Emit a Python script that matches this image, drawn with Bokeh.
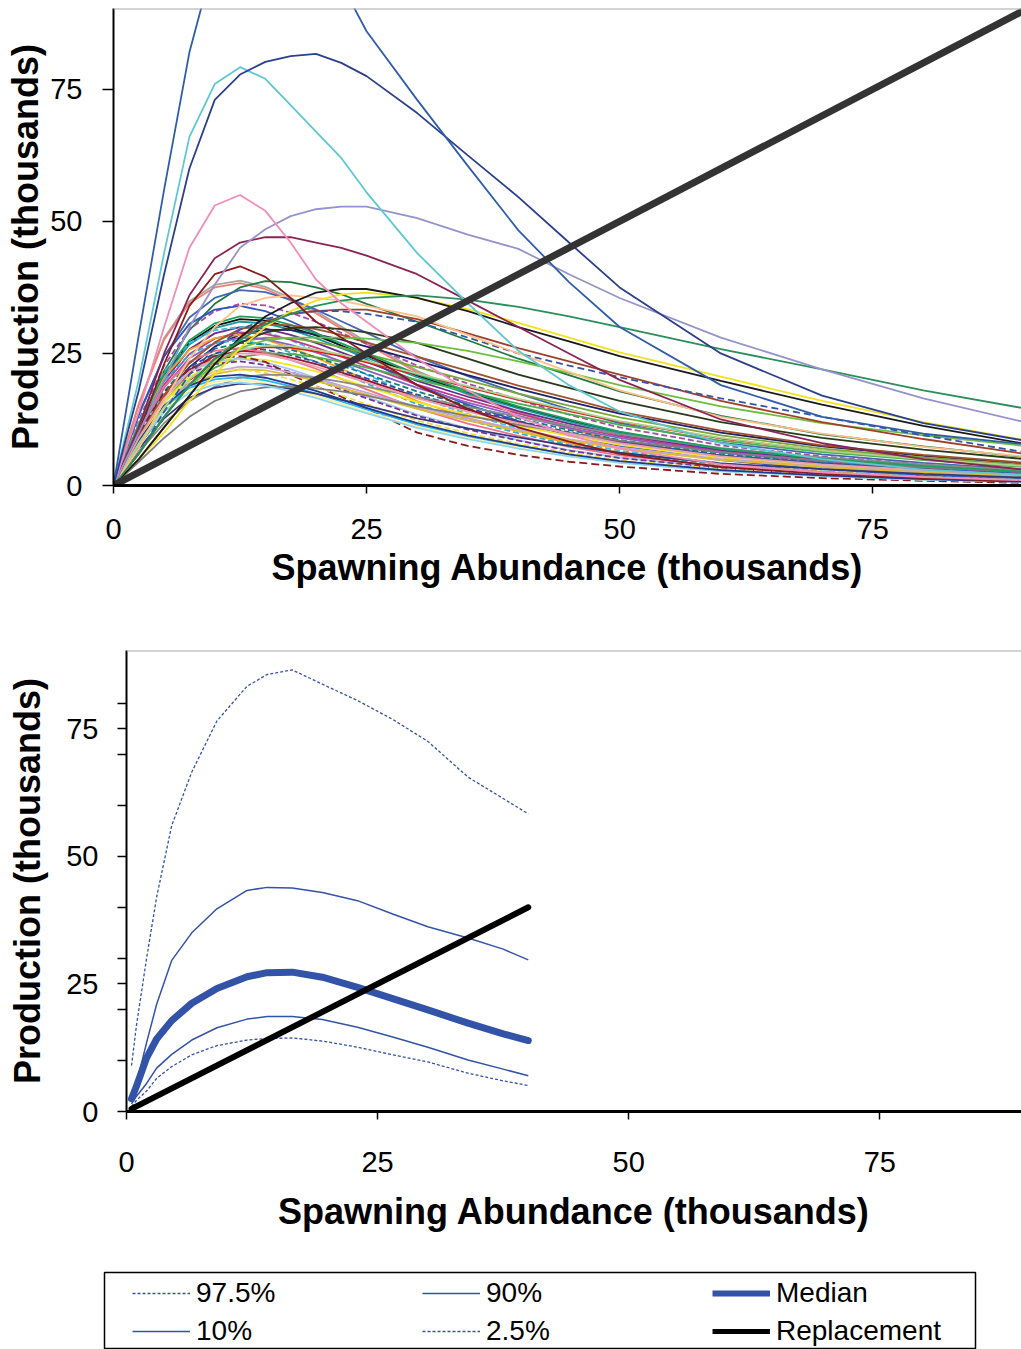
from bokeh.plotting import figure
from bokeh.layouts import column
from bokeh.models import Range1d, FixedTicker, Span, Legend, LegendItem
from bokeh.embed import file_html
from bokeh.resources import INLINE

FONT = "Liberation Sans"

# ---------------- top panel: stock-recruitment curves ----------------
top_x = [0, 2.5, 5, 7.5, 10, 12.5, 15, 17.5, 20, 22.5, 25, 30, 35, 40, 45, 50, 60, 70, 80, 90]

blue_steep = [0, 28.5, 56, 82, 100, 111, 115, 112, 105, 95, 86, 73, 60.5, 48.3, 38.5, 30, 19, 13, 9.8, 7.8]
navy_high = [0, 18, 40, 60, 73, 77.8, 80.2, 81.3, 81.7, 80, 77.5, 70.5, 62.5, 54.6, 46, 37.5, 25, 17, 11.8, 8.5]
cyan_high = [0, 20, 44, 66, 76, 79.2, 77, 72, 67, 62, 55.5, 44, 34.5, 25.5, 19, 14, 8, 5, 3, 2]
pink_mid = [0, 14, 30, 45, 53, 55, 52, 46, 39, 34.5, 31, 24, 18, 13, 9.5, 7, 4, 2.5, 1.6, 1]
lavender = [0, 10, 20, 30, 38, 45, 48.5, 51, 52.3, 52.8, 52.8, 50.6, 47.5, 44.8, 40, 35.5, 28, 22, 16.5, 12]
maroon = [0, 11, 25, 36, 43, 46, 47, 47, 46, 45, 43.5, 40, 35, 30, 25, 20, 12.5, 8, 5, 3]
darkred = [0, 10, 23, 34, 40, 41.5, 39.5, 35.5, 31, 28, 25, 19, 14.5, 11, 8.3, 6, 3.5, 2.2, 1.4, 0.8]
green_long = [0, 6, 13, 19, 24, 27.5, 30.5, 32.5, 34, 35, 35.5, 36, 35.2, 33.8, 32, 30, 25.8, 22, 18, 14.6]
black_long = [0, 5, 11, 17, 23, 28, 32, 34.5, 36.5, 37.2, 37.2, 35.5, 33, 30, 27.3, 24.5, 19.8, 15.3, 11.3, 7.9]
yellow_long = [0, 5, 10, 16, 21, 26, 30, 33, 35, 36.2, 36.5, 35.5, 33.4, 30.8, 28, 25.2, 20.6, 16, 12, 8.6]
peach = [0, 7, 16, 24, 30, 34, 35.5, 36, 35.5, 35, 34, 32, 28.5, 25, 21.5, 18, 13, 9.8, 7.3, 5.5]
blue_dash = [0, 6, 14, 21, 26, 29.5, 31.5, 32.5, 33, 33, 32.5, 31, 28, 25, 22.7, 20.5, 16.5, 13, 9.5, 6.3]
brown_long = [0, 5, 11, 17, 23, 28, 31, 32.5, 33, 33.3, 33.3, 31.5, 28.8, 26, 23.5, 21, 16, 12, 8.8, 6]
lime = [0, 6, 13, 19, 23, 26, 27.5, 28, 28, 28, 27.8, 27, 25.5, 23.5, 21.3, 19, 15, 11.8, 9.5, 7.5]
olive_dark = [0, 6, 13, 19, 24, 27, 29, 29.8, 30, 29.6, 29, 27, 24, 21, 18.5, 16, 12, 9, 6.8, 5]

b01 = [0, 15.5, 27.9, 34.9, 38.0, 38.8, 37.6, 35.5, 33.0, 30.1, 27.2, 21.7, 17.5, 14.0, 10.9, 8.5, 5.4, 3.5, 2.1, 1.4]
b02 = [0, 15.3, 27.6, 34.5, 37.5, 38.3, 37.2, 35.0, 32.6, 29.7, 26.8, 21.4, 17.2, 13.8, 10.7, 8.4, 5.4, 3.4, 2.1, 1.3]
b03 = [0, 11.6, 21.7, 29.4, 34.4, 37.5, 38.7, 38.5, 37.5, 36.2, 34.4, 31.0, 27.5, 24.0, 20.9, 17.8, 13.2, 9.7, 7.4, 5.4]
b04 = [0, 13.3, 24.4, 31.8, 35.5, 37, 36.6, 35.2, 33.3, 31.1, 28.9, 24.4, 20.7, 17.4, 14.4, 11.8, 8.1, 5.9, 4.3, 3.0]
b05 = [0, 12.4, 22.7, 29.6, 33.0, 34.4, 34.1, 32.7, 31.0, 28.9, 26.8, 22.7, 19.3, 16.2, 13.4, 11.0, 7.6, 5.5, 4.0, 2.8]
b06 = [0, 13.6, 24.5, 30.6, 33.3, 34.0, 33.0, 31.1, 28.9, 26.4, 23.8, 19.0, 15.3, 12.2, 9.5, 7.5, 4.8, 3.1, 1.9, 1.2]
b07 = [0, 11.3, 20.8, 27.1, 30.2, 31.5, 31.2, 29.9, 28.4, 26.5, 24.6, 20.8, 17.6, 14.8, 12.3, 10.1, 6.9, 5.0, 3.6, 2.5]
b08 = [0, 11.2, 20.5, 26.7, 29.8, 31, 30.7, 29.5, 27.9, 26.0, 24.2, 20.5, 17.4, 14.6, 12.1, 9.9, 6.8, 5.0, 3.6, 2.5]
b09 = [0, 10.8, 19.8, 25.8, 28.8, 30, 29.7, 28.5, 27, 25.2, 23.4, 19.8, 16.8, 14.1, 11.7, 9.6, 6.6, 4.8, 3.5, 2.4]
b10 = [0, 12, 21.6, 27, 29.4, 30, 29.1, 27.5, 25.5, 23.3, 21, 16.8, 13.5, 10.8, 8.4, 6.6, 4.2, 2.7, 1.7, 1.05]
b11 = [0, 8.9, 16.5, 22.4, 26.3, 28.6, 29.5, 29.4, 28.6, 27.6, 26.3, 23.6, 20.9, 18.3, 15.9, 13.6, 10.0, 7.4, 5.6, 4.1]
b12 = [0, 10.4, 19.1, 24.9, 27.8, 29, 28.7, 27.6, 26.1, 24.4, 22.6, 19.1, 16.2, 13.6, 11.3, 9.3, 6.4, 4.6, 3.3, 2.3]
b13 = [0, 8.4, 15.7, 21.3, 24.9, 27.2, 28, 27.9, 27.2, 26.2, 24.9, 22.4, 19.9, 17.4, 15.1, 12.9, 9.5, 7.0, 5.3, 3.9]
b14 = [0, 11.4, 20.5, 25.7, 27.9, 28.5, 27.6, 26.1, 24.2, 22.1, 20.0, 16.0, 12.8, 10.3, 8.0, 6.3, 4.0, 2.6, 1.6, 1.0]
b15 = [0, 10.1, 18.5, 24.1, 26.9, 28, 27.7, 26.6, 25.2, 23.5, 21.8, 18.5, 15.7, 13.2, 10.9, 9.0, 6.2, 4.5, 3.2, 2.2]
b16 = [0, 11, 19.8, 24.8, 27, 27.5, 26.7, 25.2, 23.4, 21.3, 19.3, 15.4, 12.4, 9.9, 7.7, 6.1, 3.9, 2.5, 1.5, 1.0]
b17 = [0, 9.7, 17.8, 23.2, 25.9, 27, 26.7, 25.7, 24.3, 22.7, 21.1, 17.8, 15.1, 12.7, 10.5, 8.6, 5.9, 4.3, 3.1, 2.2]
b18 = [0, 7.9, 14.7, 19.9, 23.3, 25.4, 26.2, 26.1, 25.4, 24.5, 23.3, 21.0, 18.6, 16.2, 14.1, 12.1, 8.9, 6.6, 5.0, 3.7]
b19 = [0, 9.2, 16.8, 21.9, 24.5, 25.5, 25.2, 24.2, 23.0, 21.4, 19.9, 16.8, 14.3, 12.0, 9.9, 8.2, 5.6, 4.1, 2.9, 2.0]
b20 = [0, 9.4, 17.2, 22.4, 25.0, 26, 25.7, 24.7, 23.4, 21.8, 20.3, 17.2, 14.6, 12.2, 10.1, 8.3, 5.7, 4.2, 3.0, 2.1]
b21 = [0, 10.4, 18.7, 23.4, 25.5, 26, 25.2, 23.8, 22.1, 20.2, 18.2, 14.6, 11.7, 9.4, 7.3, 5.7, 3.6, 2.3, 1.4, 0.9]
b22 = [0, 8.6, 15.8, 20.6, 23.0, 24, 23.8, 22.8, 21.6, 20.2, 18.7, 15.8, 13.4, 11.3, 9.4, 7.7, 5.3, 3.8, 2.8, 1.9]
b23 = [0, 7.5, 14, 19, 22.3, 24.3, 25, 24.9, 24.3, 23.4, 22.3, 20, 17.8, 15.5, 13.5, 11.5, 8.5, 6.3, 4.8, 3.5]
b24 = [0, 9.6, 17.3, 21.6, 23.5, 24, 23.3, 22.0, 20.4, 18.6, 16.8, 13.4, 10.8, 8.6, 6.7, 5.3, 3.4, 2.2, 1.3, 0.8]
b25 = [0, 9.4, 16.9, 21.2, 23.0, 23.5, 22.8, 21.5, 20.0, 18.2, 16.5, 13.2, 10.6, 8.5, 6.6, 5.2, 3.3, 2.1, 1.3, 0.8]
b26 = [0, 9.8, 17.6, 22.1, 24.0, 24.5, 23.4, 21.0, 18.8, 16.8, 14.6, 10.0, 7.5, 5.8, 4.5, 3.6, 2.2, 1.4, 0.9, 0.5]
b27 = [0, 8.1, 14.9, 19.4, 21.6, 22.5, 22.3, 21.4, 20.3, 18.9, 17.6, 14.9, 12.6, 10.6, 8.8, 7.2, 5.0, 3.6, 2.6, 1.8]
b28 = [0, 7.9, 14.5, 18.9, 21.1, 22, 21.8, 20.9, 19.8, 18.5, 17.2, 14.5, 12.3, 10.3, 8.6, 7.0, 4.8, 3.5, 2.5, 1.8]
b29 = [0, 8.8, 15.8, 19.8, 21.6, 22, 21.3, 20.1, 18.7, 17.1, 15.4, 12.3, 9.9, 7.9, 6.2, 4.8, 3.1, 2.0, 1.2, 0.8]
b30 = [0, 6.3, 11.8, 16.0, 18.7, 20.4, 21, 20.9, 20.4, 19.6, 18.7, 16.8, 14.9, 13.0, 11.3, 9.7, 7.1, 5.3, 4.0, 2.9]
b31 = [0, 8.2, 14.8, 18.5, 20.1, 20.5, 19.9, 18.8, 17.4, 15.9, 14.4, 11.5, 9.2, 7.4, 5.7, 4.5, 2.9, 1.8, 1.1, 0.7]
b32 = [0, 8, 14.4, 18, 19.6, 20, 19.4, 18.3, 17, 15.5, 14, 11.2, 9, 7.2, 5.6, 4.4, 2.8, 1.8, 1.1, 0.7]
b33 = [0, 6.9, 12.7, 16.6, 18.5, 19.3, 19.1, 18.3, 17.4, 16.2, 15.1, 12.7, 10.8, 9.1, 7.5, 6.2, 4.2, 3.1, 2.2, 1.5]
b34 = [0, 4.5, 9.0, 13.0, 16.0, 17.8, 18.6, 18.7, 18.4, 17.8, 17.0, 15.0, 13.2, 11.5, 9.9, 8.5, 6.3, 4.7, 3.5, 2.6]
b35 = [0, 7.8, 14.0, 17.6, 19.1, 19.5, 18.9, 17.8, 16.6, 15.1, 13.7, 10.9, 8.8, 7.0, 5.5, 4.3, 2.7, 1.8, 1.1, 0.7]
b36 = [0, 8.4, 15.1, 18.9, 20.6, 21, 20.4, 19.2, 17.9, 16.3, 14.7, 11.8, 9.5, 7.6, 5.9, 4.6, 2.9, 1.9, 1.2, 0.7]
b37 = [0, 11.5, 21.1, 27.5, 30.7, 32, 31.7, 30.4, 28.8, 26.9, 25.0, 21.1, 17.9, 15.0, 12.5, 10.2, 7.0, 5.1, 3.7, 2.6]
b38 = [0, 9.2, 17.1, 23.2, 27.1, 29.6, 30.5, 30.3, 29.6, 28.5, 27.1, 24.4, 21.7, 18.9, 16.5, 14.0, 10.4, 7.6, 5.8, 4.3]
b39 = [0, 8.0, 14.8, 20.1, 23.6, 25.7, 26.5, 26.4, 25.7, 24.8, 23.6, 21.2, 18.8, 16.4, 14.3, 12.2, 9.0, 6.6, 5.0, 3.7]
b40 = [0, 9, 16.5, 21.5, 24, 25, 24.8, 23.8, 22.5, 21, 19.5, 16.5, 14, 11.8, 9.8, 8, 5.5, 4, 2.9, 2.0]

replacement_top = [0, 90]

# ---------------- bottom panel: percentiles ----------------
pct_x = [0.5, 1, 2, 3, 4.5, 6.5, 9, 12, 14, 16.5, 19.5, 23, 26.5, 30, 34, 37.5, 40]
p975 = [9, 17, 30, 42, 56, 66.5, 76.5, 83.3, 85.6, 86.5, 83.7, 80.5, 76.8, 72.5, 65.5, 61.3, 58.3]
p90 = [2.5, 5.5, 13.5, 21, 29.6, 35, 39.7, 43.3, 43.9, 43.8, 42.9, 41.3, 38.7, 36.2, 34, 31.8, 29.7]
p50 = [2.5, 5, 10.5, 14.2, 17.8, 21.2, 24.1, 26.4, 27.2, 27.3, 26.3, 24.3, 22.1, 19.9, 17.3, 15.2, 13.9]
p10 = [1.5, 3, 5.5, 8.5, 11.2, 14, 16.4, 18.1, 18.6, 18.6, 18, 16.5, 14.6, 12.6, 10.1, 8.3, 7.0]
p025 = [1, 2.2, 4, 6.5, 8.8, 11.1, 12.9, 14, 14.3, 14.4, 13.8, 12.6, 11.1, 9.7, 7.5, 6.0, 5.1]
replacement_bottom = [0.5, 40]

axis_ticks = [0, 25, 50, 75]
minor_y_ticks = [10, 20, 30, 40, 60, 70, 80]

legend_labels = ["97.5%", "90%", "Median", "10%", "2.5%", "Replacement"]

BLUE = "#3353A8"

bundle = [
    (b01, "#A6A6A6", None), (b02, "#F28070", None), (b03, "#1E7B3E", None),
    (b04, "#4466B5", None), (b05, "#A64CA6", "6 3"), (b06, "#3355BB", None),
    (b07, "#111111", None), (b08, "#1A9999", None), (b09, "#6A2C91", None),
    (b10, "#3DBDE8", "6 3"), (b11, "#22226A", None), (b12, "#C03A8A", None),
    (b13, "#7AA834", None), (b14, "#F2A51E", None), (b15, "#8A63C2", None),
    (b16, "#2FB0D0", "6 3"), (b17, "#0E7F7F", "6 3"), (b18, "#E31A1C", None),
    (b19, "#9E1238", None), (b20, "#2F4FA0", "6 3"), (b21, "#F0708E", None),
    (b22, "#F5E51B", None), (b23, "#4DAF4A", None), (b24, "#A6C8EE", None),
    (b25, "#7B3294", "6 3"), (b26, "#8B1A1A", "8 4"), (b27, "#C2A5DE", None),
    (b28, "#DDBB33", None), (b29, "#EEE040", "6 3"), (b30, "#8C8C8C", None),
    (b31, "#29B6EA", None), (b32, "#FFF0A0", None), (b33, "#333A7A", None),
    (b34, "#7F7F7F", None), (b35, "#8FD6F0", None), (b36, "#1F3A93", None),
    (b37, "#1FA060", None), (b38, "#A0522D", None), (b39, "#A8D58C", None),
    (b40, "#E6A0B4", None),
]

featured = [
    (olive_dark, "#2A3A1A", None), (lime, "#6CBF3F", None),
    (brown_long, "#A0402A", None), (blue_dash, "#3355AA", "7 4"),
    (peach, "#FFC08A", None), (yellow_long, "#F2E21E", None),
    (black_long, "#1A1A1A", None), (green_long, "#2A8F5A", None),
    (darkred, "#8B1A1A", None), (maroon, "#8B2456", None),
    (lavender, "#9494CC", None), (pink_mid, "#F28DBA", None),
    (cyan_high, "#5EC8D2", None), (navy_high, "#2B3F8F", None),
    (blue_steep, "#2F5DAA", None),
]


def style(p, xlabel, ylabel, xstand, xlabstand, ystand, ylabstand, ytick_out):
    p.xgrid.visible = False
    p.ygrid.visible = False
    p.outline_line_color = None
    for ax in (p.xaxis[0], p.yaxis[0]):
        ax.axis_line_color = "black"
        ax.major_tick_line_color = "black"
        ax.major_tick_line_width = 1.5
        ax.major_tick_in = 0
        ax.major_label_text_font = FONT
        ax.major_label_text_font_size = "29px"
        ax.major_label_text_color = "black"
        ax.axis_label_text_font = FONT
        ax.axis_label_text_font_size = "36px"
        ax.axis_label_text_font_style = "bold"
        ax.axis_label_text_color = "black"
    xa = p.xaxis[0]
    ya = p.yaxis[0]
    xa.axis_line_width = 3
    ya.axis_line_width = 2
    xa.major_tick_out = 8
    ya.major_tick_out = ytick_out
    xa.minor_tick_out = 0
    xa.minor_tick_in = 0
    xa.ticker = FixedTicker(ticks=axis_ticks)
    xa.axis_label = xlabel
    ya.axis_label = ylabel
    xa.major_label_standoff = xstand
    xa.axis_label_standoff = xlabstand
    ya.major_label_standoff = ystand
    ya.axis_label_standoff = ylabstand


# ---------------- top figure ----------------
p1 = figure(width=1021, height=612, x_range=Range1d(0, 89.7), y_range=Range1d(0, 90.3),
            output_backend="svg", toolbar_location=None, frame_align=False,
            min_border_left=113, min_border_right=0, min_border_top=8, min_border_bottom=127)
style(p1, "Spawning Abundance (thousands)", "Production (thousands)", 25, 5, 20, 1, 11)
p1.yaxis[0].ticker = FixedTicker(ticks=axis_ticks)
p1.yaxis[0].minor_tick_out = 0
p1.yaxis[0].minor_tick_in = 0

for vals, col, dash in bundle + featured:
    kw = dict(line_color=col, line_width=1.8)
    if dash:
        kw["line_dash"] = dash
    p1.line(top_x, vals, **kw)

p1.line(replacement_top, replacement_top, line_color="#333333", line_width=7)
p1.add_layout(Span(location=90.3, dimension="width", line_color="#A8A8A8", line_width=2))

# ---------------- bottom figure ----------------
p2 = figure(width=1021, height=628, x_range=Range1d(0, 89.1), y_range=Range1d(0, 90.3),
            output_backend="svg", toolbar_location=None, frame_align=False,
            min_border_left=126, min_border_right=0, min_border_top=38, min_border_bottom=129)
style(p2, "Spawning Abundance (thousands)", "Production (thousands)", 32, 16, 19, 15, 9)
p2.yaxis[0].ticker = FixedTicker(ticks=axis_ticks, minor_ticks=minor_y_ticks)
p2.yaxis[0].minor_tick_out = 9
p2.yaxis[0].minor_tick_in = 0
p2.yaxis[0].minor_tick_line_color = "black"
p2.yaxis[0].minor_tick_line_width = 1.5

p2.line(pct_x, p975, line_color=BLUE, line_width=1.3, line_dash="3 2")
p2.line(pct_x, p90, line_color=BLUE, line_width=1.5)
p2.line(pct_x, p10, line_color=BLUE, line_width=1.5)
p2.line(pct_x, p025, line_color=BLUE, line_width=1.3, line_dash="3 2")
p2.line(pct_x, p50, line_color=BLUE, line_width=7, line_cap="round", line_join="round")
p2.line(replacement_bottom, replacement_bottom, line_color="black", line_width=6, line_cap="round")
p2.add_layout(Span(location=90.3, dimension="width", line_color="#A8A8A8", line_width=2))

# ---------------- legend panel ----------------
p3 = figure(width=1021, height=109, x_range=Range1d(-2, -1), y_range=Range1d(-2, -1),
            output_backend="svg", toolbar_location=None, frame_align=False,
            x_axis_location=None, y_axis_location=None,
            min_border_left=104, min_border_right=46, min_border_top=32, min_border_bottom=0)
p3.xgrid.visible = False
p3.ygrid.visible = False
p3.outline_line_color = "black"
p3.outline_line_width = 1.5

legend_series = [p975, p90, p50, p10, p025, replacement_bottom]
legend_x = [pct_x, pct_x, pct_x, pct_x, pct_x, replacement_bottom]
styles = [
    dict(line_color=BLUE, line_width=1.3, line_dash="3 2"),
    dict(line_color=BLUE, line_width=1.5),
    dict(line_color=BLUE, line_width=6),
    dict(line_color=BLUE, line_width=1.5),
    dict(line_color=BLUE, line_width=1.3, line_dash="3 2"),
    dict(line_color="black", line_width=5),
]
items = []
for lab, xs, ys, st in zip(legend_labels, legend_x, legend_series, styles):
    r = p3.line(xs, ys, **st)
    items.append(LegendItem(label=lab, renderers=[r]))

leg = Legend(items=items, orientation="horizontal", ncols=3, location=(28, 2),
             border_line_color=None, background_fill_alpha=0, padding=0, margin=0,
             spacing=6, glyph_width=58, glyph_height=20, label_height=20,
             label_width=220, label_standoff=6,
             label_text_font=FONT, label_text_font_size="28px", label_text_color="black")
p3.add_layout(leg)

layout = column(p1, p2, p3, spacing=0)
open("out.html", "w").write(file_html(layout, INLINE))
